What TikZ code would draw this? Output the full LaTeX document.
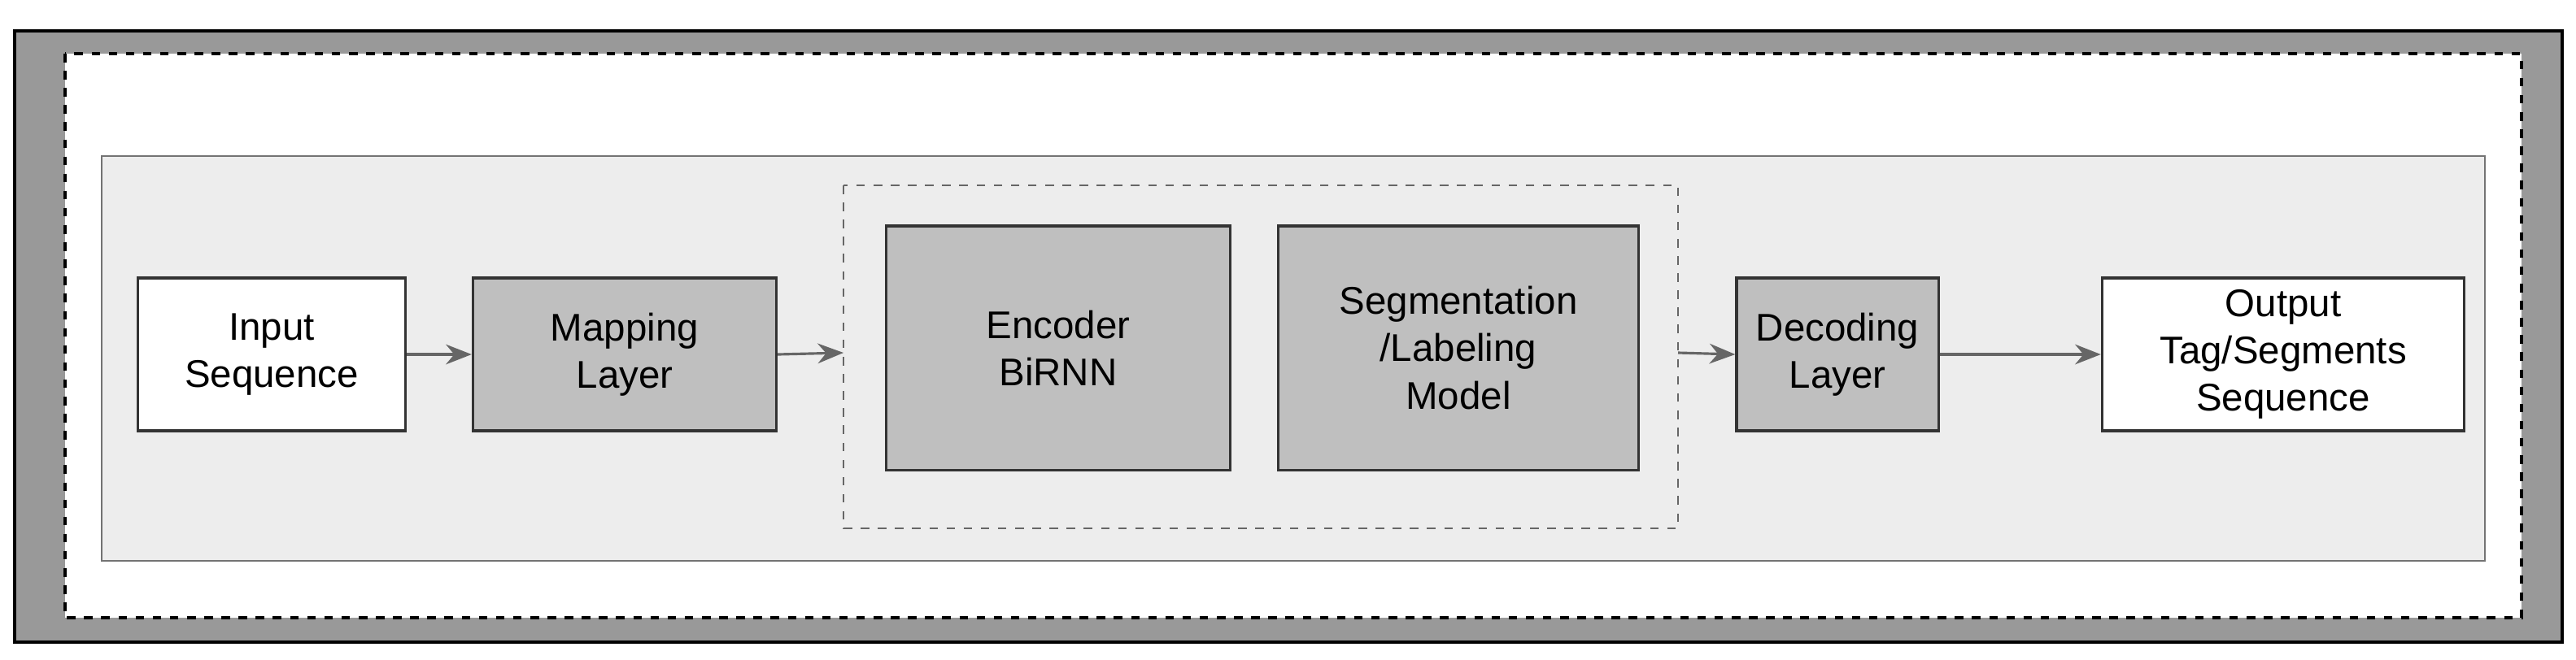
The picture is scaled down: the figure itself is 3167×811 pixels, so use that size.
\documentclass[tikz,border=0pt]{standalone}
\usepackage{fontspec}
\setmainfont{Liberation Sans}
\usetikzlibrary{arrows.meta,positioning}
\tikzset{>={Stealth[length=9pt,width=7pt]}}
\colorlet{framecol}{black!40}
\colorlet{panelcol}{black!7}
\colorlet{blockcol}{black!25}
\tikzset{
  box/.style={draw=black!80,line width=0.9pt,align=center,inner sep=0pt,
    font=\fontsize{13.5}{16.5}\selectfont},
  plain box/.style={box,fill=white},
  grey box/.style={box,fill=blockcol},
  flow/.style={->,draw=black!60,line width=0.9pt}
}
\begin{document}
\begin{tikzpicture}[x=0.01cm,y=-0.01cm]
  \useasboundingbox (0,0) rectangle (3167,811);
  % frames
  \draw[fill=framecol,line width=1pt] (18,38) rectangle (3150,790);
  \draw[fill=white,dashed,line width=1pt] (80,66) rectangle (3100,760);
  \draw[fill=panelcol,draw=black!55,line width=0.8pt] (125,192) rectangle (3055,690);
  \draw[dashed,draw=black!60,line width=0.8pt] (1037,228) rectangle (2063,650);
  % blocks
  \node[plain box,minimum width=3.28cm,minimum height=1.88cm] (input) at (334,436) {Input\\Sequence};
  \node[grey box,minimum width=3.73cm,minimum height=1.88cm] (map) at (768,436) {Mapping\\Layer};
  \node[grey box,minimum width=4.23cm,minimum height=3.0cm] (enc) at (1301,428) {Encoder\\BiRNN};
  \node[grey box,minimum width=4.43cm,minimum height=3.0cm] (seg) at (1793,428) {Segmentation\\/Labeling\\Model};
  \node[grey box,minimum width=2.48cm,minimum height=1.88cm] (dec) at (2259,436) {Decoding\\Layer};
  \node[plain box,minimum width=4.45cm,minimum height=1.88cm] (out) at (2807,436) {Output\\Tag/Segments\\Sequence};
  \coordinate (grpin) at (1037,434);
  \coordinate (grpout) at (2063,434);
  % connectors
  \draw[flow] (input.east) -- (map.west);
  \draw[flow] (map.east) -- (grpin);
  \draw[flow] (grpout) -- (dec.west);
  \draw[flow] (dec.east) -- (out.west);
\end{tikzpicture}
\end{document}
